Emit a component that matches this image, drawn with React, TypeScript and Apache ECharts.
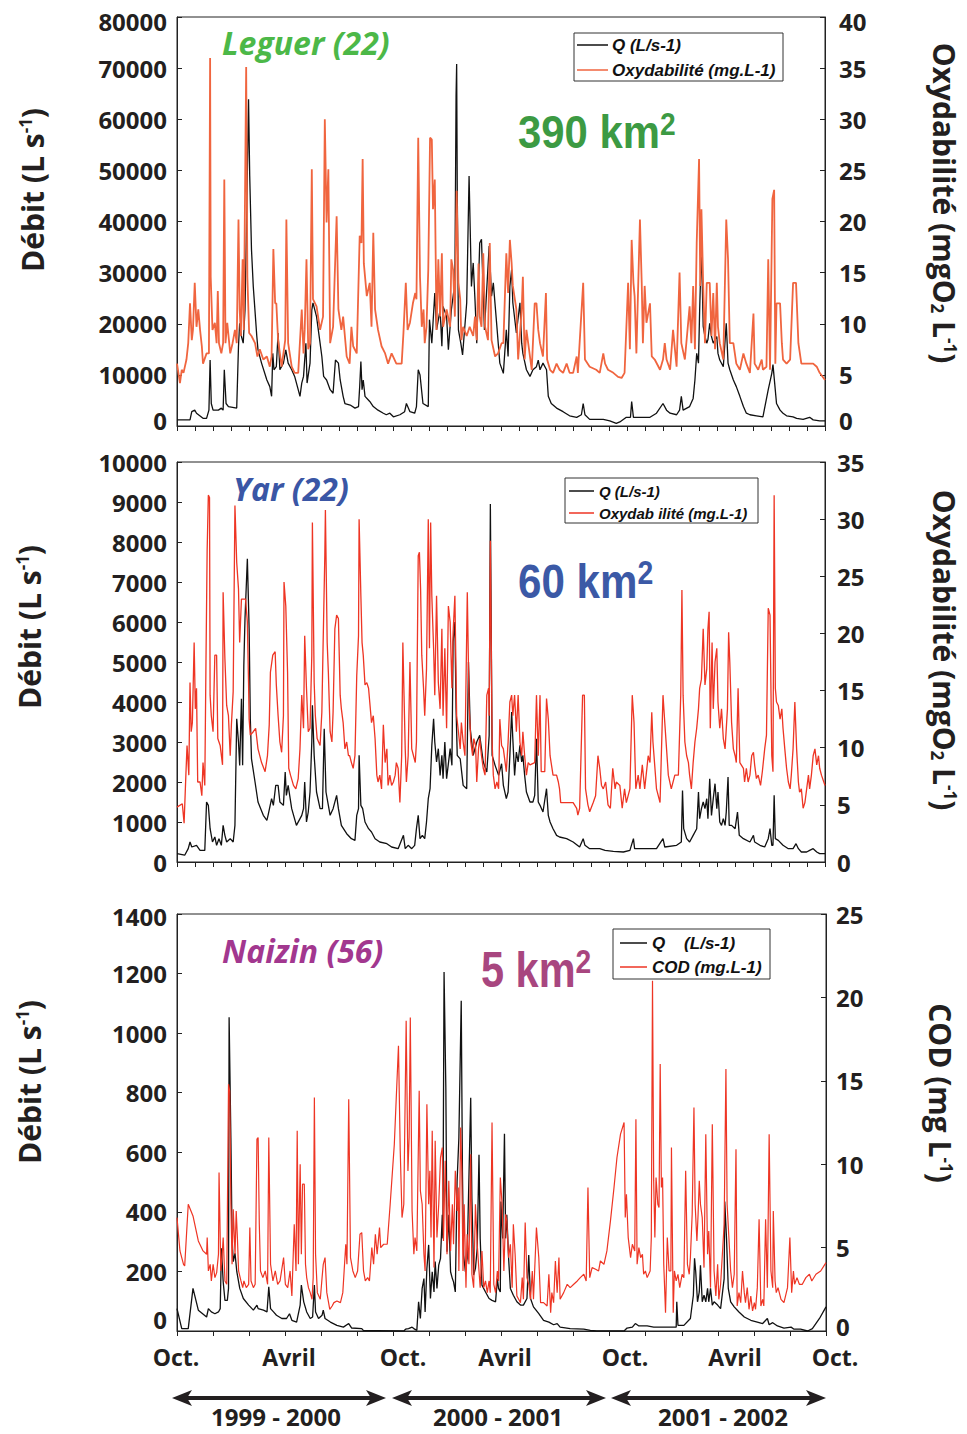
import React, { useEffect, useRef } from "react";
import * as echarts from "echarts";

// ---- time axis: days since 1 Oct 1999 (to 1 Oct 2002) ----
const DAYS = 1096;

// ---- Panel 1 : Leguer (22) ----
const leguerQ: [number, number][] = [[0,1200],[22,1200],[25,2800],[30,3100],[33,2500],[44,1500],[50,1500],[54,3100],[56,12900],[58,4400],[61,3100],[70,3100],[75,3500],[78,3100],[80,11000],[83,4400],[87,3800],[101,3500],[104,15600],[106,20100],[109,17500],[112,16200],[115,22700],[118,42400],[121,63900],[123,48900],[126,34500],[129,27300],[135,17500],[137,14900],[143,12300],[152,9000],[157,7700],[160,5800],[162,14200],[164,11000],[168,11600],[171,18200],[174,11000],[180,12300],[184,14900],[188,12300],[194,11000],[199,9700],[205,7100],[208,5800],[211,8400],[214,9700],[218,16200],[220,8400],[225,12300],[228,22700],[230,24100],[236,21400],[242,16200],[245,13600],[248,9700],[253,9000],[259,7100],[264,6400],[268,12900],[273,12300],[276,9000],[281,5800],[284,4400],[293,4100],[301,3500],[307,3800],[309,7700],[311,12600],[313,7100],[315,9000],[318,5800],[326,4800],[332,3800],[340,3100],[349,2500],[354,2200],[360,2500],[366,1800],[377,2200],[385,2800],[388,4400],[394,2800],[402,2500],[405,3800],[408,11000],[411,10000],[416,4400],[425,3800],[427,20800],[431,16200],[436,26000],[439,18800],[445,22700],[448,15600],[450,23400],[456,21400],[459,14900],[464,22700],[470,28000],[472,64600],[473,70800],[474,46300],[476,18800],[480,16200],[483,13900],[490,24100],[494,48900],[498,27300],[501,31900],[504,24700],[507,16200],[512,35800],[515,36500],[520,18800],[528,35200],[532,25400],[535,28000],[541,19500],[546,12300],[552,10300],[557,18800],[560,13600],[563,27300],[566,30600],[568,24100],[574,18200],[580,24100],[583,16200],[585,14200],[591,11000],[597,9700],[602,11000],[608,11600],[611,12900],[614,11000],[619,12300],[625,11000],[628,5800],[633,4400],[642,3500],[653,2800],[664,2000],[676,1700],[684,2200],[687,4400],[690,2200],[698,1300],[721,1300],[732,1000],[743,500],[749,800],[760,1700],[767,1700],[769,4800],[772,1700],[800,1700],[811,2500],[822,4400],[828,3100],[834,2500],[845,2200],[850,3100],[853,5800],[856,3100],[867,3800],[873,5400],[876,9000],[879,14200],[882,12300],[884,22700],[887,35200],[890,19500],[893,17500],[896,16200],[898,16900],[901,20100],[904,17500],[907,16200],[913,17500],[915,14200],[918,12900],[924,11600],[929,20100],[932,12300],[935,11000],[941,9000],[946,7700],[952,5800],[958,3800],[963,2500],[969,2200],[980,2000],[991,1800],[1000,7100],[1006,10300],[1008,12000],[1014,4400],[1020,3100],[1025,2500],[1031,2000],[1042,1800],[1048,1500],[1059,1300],[1070,1700],[1076,1200],[1087,1000],[1096,1000]];

const leguerOxy: [number, number][] = [[0,6.1],[5,4.2],[8,5.5],[11,5.2],[16,6.5],[19,8.1],[22,12.0],[25,8.4],[27,9.4],[30,14.0],[33,9.7],[36,11.4],[39,9.4],[42,7.8],[44,6.1],[50,7.1],[54,7.1],[56,36.0],[57,14.6],[60,9.4],[64,10.1],[67,8.1],[69,13.2],[71,8.1],[75,7.1],[78,8.1],[80,24.1],[82,8.1],[85,10.1],[90,7.1],[94,8.1],[98,9.4],[101,8.1],[104,20.2],[106,11.4],[108,8.8],[111,16.3],[113,9.4],[117,35.1],[119,14.6],[122,9.1],[126,8.8],[132,8.1],[136,6.8],[140,7.5],[146,6.5],[152,6.8],[157,5.8],[160,6.8],[163,17.3],[166,12.0],[168,12.0],[171,8.4],[177,5.8],[183,8.4],[185,20.2],[188,8.1],[194,5.8],[199,5.2],[205,5.2],[211,11.4],[214,7.1],[216,9.4],[219,16.3],[222,7.5],[225,8.1],[228,25.1],[230,12.4],[236,11.7],[242,9.4],[247,10.7],[250,30.0],[253,19.9],[256,25.1],[259,8.1],[264,9.7],[270,20.5],[273,11.4],[278,9.4],[281,10.7],[287,6.8],[292,6.1],[295,9.7],[298,7.8],[304,7.1],[309,18.6],[312,17.9],[314,26.1],[316,15.9],[321,12.7],[326,14.0],[329,9.7],[332,18.9],[335,11.4],[340,9.4],[346,7.8],[352,7.1],[357,6.1],[363,7.1],[371,6.1],[380,6.1],[383,9.1],[387,14.0],[390,9.4],[394,10.1],[399,12.0],[403,13.0],[405,12.4],[408,28.2],[411,14.6],[414,9.7],[417,11.4],[419,8.1],[422,9.7],[425,15.3],[428,28.2],[431,28.0],[433,21.2],[436,24.1],[439,9.4],[442,16.3],[445,10.7],[448,16.9],[450,9.7],[456,11.4],[462,9.7],[464,16.3],[467,15.3],[470,10.7],[473,23.0],[476,14.0],[479,12.4],[481,8.4],[484,9.7],[490,8.8],[495,9.7],[501,8.8],[504,10.7],[507,8.4],[510,15.9],[512,10.7],[515,9.7],[518,16.9],[521,9.7],[526,8.4],[529,17.9],[532,8.4],[538,6.8],[543,7.1],[549,8.1],[552,8.1],[557,16.9],[560,13.0],[563,18.2],[566,15.9],[568,13.7],[574,11.4],[577,6.5],[583,11.4],[585,14.6],[588,6.5],[591,9.4],[594,8.1],[600,5.5],[605,12.0],[608,12.0],[611,9.4],[614,8.1],[619,6.8],[624,13.0],[626,6.5],[631,5.5],[636,5.2],[642,6.1],[647,5.5],[653,5.2],[659,6.1],[664,5.2],[670,5.2],[676,6.8],[678,5.2],[687,14.0],[690,6.5],[698,5.8],[709,5.5],[715,5.2],[721,7.1],[724,6.1],[729,5.5],[738,5.2],[746,4.8],[752,4.7],[757,5.2],[763,14.0],[766,7.5],[769,18.2],[772,14.0],[774,12.7],[777,7.1],[783,20.2],[786,14.0],[788,8.1],[791,13.7],[794,10.1],[800,12.0],[803,6.8],[808,6.5],[817,5.5],[822,6.5],[825,8.1],[828,6.5],[834,5.5],[839,9.4],[845,5.8],[850,15.0],[853,8.1],[859,6.5],[867,11.7],[870,8.1],[873,13.7],[876,7.5],[879,17.9],[883,26.1],[885,13.7],[887,21.2],[890,13.7],[893,8.1],[896,14.0],[901,14.0],[904,8.8],[907,13.0],[910,7.5],[913,14.0],[915,9.7],[918,8.1],[924,6.5],[929,20.2],[932,16.3],[935,8.1],[941,8.1],[946,6.1],[952,5.5],[958,7.1],[963,6.1],[969,5.2],[975,11.0],[977,6.1],[983,5.5],[989,6.5],[991,5.5],[997,5.8],[1000,16.3],[1003,5.5],[1007,22.2],[1010,23.1],[1012,6.1],[1014,12.0],[1020,12.0],[1023,8.1],[1025,6.5],[1031,6.1],[1037,6.5],[1042,14.0],[1047,14.0],[1051,8.1],[1056,6.1],[1065,6.1],[1076,6.1],[1082,5.8],[1087,5.2],[1096,4.5]];

// ---- Panel 2 : Yar (22) ----
const yarQ: [number, number][] = [[0,208],[13,170],[19,333],[22,500],[25,375],[33,417],[39,290],[47,290],[50,1500],[53,1416],[56,833],[60,500],[64,625],[67,417],[71,583],[75,417],[78,916],[81,666],[84,500],[90,583],[95,500],[98,916],[101,3580],[104,3000],[106,2416],[109,4080],[111,2416],[113,4900],[115,6080],[119,7580],[122,5830],[124,3580],[126,2580],[132,2000],[137,1500],[146,1166],[152,1041],[154,1166],[160,1583],[163,1416],[167,1916],[171,1916],[174,1500],[180,1416],[183,2250],[185,1666],[188,1916],[194,1333],[202,916],[211,1166],[214,1333],[216,2000],[219,1000],[222,1250],[225,1750],[228,3000],[229,3916],[232,2666],[236,1750],[242,1333],[246,1333],[249,3333],[252,1750],[256,1416],[259,1166],[264,1333],[270,1666],[273,1333],[278,916],[287,708],[295,583],[301,541],[304,1166],[307,1333],[308,2666],[311,1416],[314,1333],[318,1000],[324,833],[329,750],[335,583],[343,500],[355,458],[363,375],[374,333],[383,666],[386,333],[391,417],[397,333],[402,417],[405,833],[408,1166],[411,583],[415,666],[419,583],[422,1000],[425,1583],[428,1833],[431,2916],[434,3580],[436,3000],[439,2500],[442,2833],[445,2166],[448,2666],[450,2083],[453,3000],[456,2083],[462,2833],[465,2416],[467,5500],[470,6000],[472,3833],[474,2666],[479,2580],[484,1916],[490,1833],[493,5000],[496,3333],[501,2666],[507,3000],[512,3166],[518,2500],[524,2250],[528,3166],[530,8950],[531,8950],[533,2666],[538,2416],[544,2166],[549,2458],[552,1916],[557,1583],[560,1750],[563,2666],[566,3750],[568,3083],[571,2166],[574,2750],[577,2500],[580,2916],[583,2500],[585,2666],[588,2166],[591,1750],[597,1500],[602,1500],[605,1666],[608,3083],[611,1500],[614,1416],[619,1250],[625,1833],[628,1166],[631,1000],[636,833],[642,666],[647,625],[659,583],[670,500],[681,375],[687,583],[690,417],[698,333],[715,333],[724,291],[738,267],[755,250],[766,291],[772,583],[774,333],[794,333],[811,333],[822,583],[825,375],[845,417],[853,500],[855,1790],[857,833],[862,583],[867,500],[873,666],[879,833],[882,1750],[884,1083],[887,1333],[890,1500],[893,1333],[896,1583],[898,1083],[901,2083],[904,1166],[907,1583],[910,1958],[913,1333],[915,1750],[918,1000],[921,916],[924,1083],[927,916],[929,1250],[932,2125],[934,916],[938,916],[944,833],[948,1250],[951,666],[958,583],[969,500],[975,666],[977,500],[986,417],[994,375],[1000,583],[1003,833],[1006,417],[1008,417],[1010,1666],[1012,583],[1017,541],[1025,417],[1034,333],[1042,333],[1047,458],[1051,333],[1056,250],[1065,250],[1070,291],[1076,333],[1082,250],[1087,208],[1096,208]];

const yarOxy: [number, number][] = [[0,4.8],[9,5.1],[12,3.4],[15,7.6],[17,10.2],[20,7.6],[22,15.7],[24,11.4],[26,12.2],[29,19.2],[31,13.4],[33,15.2],[35,7.0],[39,7.0],[42,5.8],[44,8.7],[47,6.7],[49,17.5],[51,27.3],[53,32.1],[55,31.9],[56,14.6],[58,12.8],[61,11.4],[64,18.1],[67,18.1],[69,10.8],[73,10.2],[77,8.5],[78,23.6],[81,17.8],[84,13.7],[87,12.8],[90,9.3],[92,12.0],[95,14.9],[98,31.2],[101,26.2],[104,23.9],[106,19.2],[109,23.0],[112,23.0],[116,23.0],[119,21.0],[121,15.7],[122,12.5],[124,11.1],[129,11.4],[133,11.7],[137,9.9],[143,8.7],[149,7.9],[153,9.3],[156,12.0],[158,16.6],[162,18.1],[166,18.4],[168,15.5],[171,12.8],[174,10.5],[177,9.6],[180,12.8],[181,24.5],[184,22.4],[187,16.6],[189,8.2],[192,7.6],[197,6.7],[201,6.4],[205,7.3],[208,9.9],[211,14.6],[214,11.7],[216,19.8],[219,15.2],[222,11.4],[225,11.7],[228,18.1],[229,29.7],[232,15.7],[234,12.8],[237,10.8],[242,10.2],[245,13.1],[247,18.7],[250,26.8],[251,30.8],[254,19.2],[256,16.6],[259,11.4],[262,10.5],[264,13.1],[267,20.4],[270,21.6],[273,21.3],[276,14.6],[278,13.4],[281,12.2],[284,9.9],[287,10.5],[290,9.3],[292,9.3],[295,8.7],[298,8.2],[301,9.3],[304,16.3],[307,19.8],[308,30.0],[311,23.3],[313,19.2],[315,18.1],[318,15.5],[321,15.7],[324,15.2],[326,14.0],[329,12.2],[332,12.8],[335,10.8],[338,7.6],[340,7.0],[343,7.6],[346,6.4],[349,12.0],[352,8.7],[355,9.9],[357,6.7],[360,7.6],[363,6.7],[366,7.0],[369,7.6],[371,8.7],[374,8.2],[377,5.2],[380,9.3],[382,19.2],[384,14.6],[386,9.9],[388,7.0],[391,9.3],[394,17.5],[397,9.9],[400,9.3],[403,8.7],[405,10.5],[408,26.8],[410,27.1],[412,23.9],[414,18.1],[417,15.2],[419,12.8],[422,16.9],[425,30.0],[427,18.7],[429,29.7],[431,23.3],[434,18.7],[436,14.6],[439,23.3],[442,15.7],[445,13.4],[448,20.4],[450,12.8],[453,18.7],[456,11.7],[459,22.4],[462,21.0],[465,15.2],[467,20.1],[470,23.3],[473,12.8],[476,11.4],[479,9.9],[481,12.2],[484,10.5],[487,9.3],[491,23.6],[494,13.7],[497,10.5],[500,9.3],[502,10.8],[505,10.2],[507,7.0],[510,9.9],[512,10.8],[515,9.3],[518,8.2],[521,7.6],[524,14.6],[527,15.2],[528,12.8],[530,28.1],[531,28.1],[533,10.5],[535,7.6],[538,6.4],[541,7.0],[544,6.4],[546,12.5],[549,10.2],[552,9.9],[557,7.9],[560,10.5],[563,14.0],[566,14.6],[568,12.8],[571,14.6],[574,11.4],[577,14.6],[580,10.5],[583,9.3],[585,11.4],[588,9.3],[591,7.6],[594,8.7],[597,8.5],[605,8.7],[608,14.6],[611,9.3],[614,14.6],[616,7.9],[622,7.9],[625,14.3],[628,12.5],[631,9.3],[636,7.6],[642,7.6],[645,7.0],[647,6.4],[649,5.2],[659,5.2],[670,5.2],[676,4.7],[678,4.1],[681,4.7],[686,14.6],[689,14.6],[691,6.4],[695,5.0],[698,4.4],[704,5.2],[708,5.8],[712,9.3],[715,8.2],[718,6.7],[721,6.4],[725,7.0],[729,5.0],[733,4.7],[737,8.2],[741,6.4],[743,7.0],[749,6.7],[753,4.7],[757,6.4],[760,5.2],[766,6.4],[770,14.6],[773,12.2],[776,6.4],[780,7.6],[783,6.4],[787,8.5],[791,6.4],[797,9.3],[800,8.7],[803,13.1],[805,10.5],[811,6.4],[817,5.2],[822,14.6],[825,12.2],[831,7.6],[836,6.4],[842,7.6],[848,7.6],[852,14.6],[854,23.8],[856,14.6],[859,10.5],[862,9.3],[865,8.7],[867,7.6],[870,6.4],[873,8.7],[876,10.5],[879,11.7],[882,13.4],[884,15.2],[887,16.0],[890,20.4],[893,15.5],[896,16.9],[898,20.4],[900,21.9],[902,11.7],[905,19.2],[907,13.4],[910,17.5],[913,18.7],[915,14.0],[918,11.7],[921,13.4],[924,10.8],[927,9.9],[931,13.4],[933,20.1],[935,17.5],[938,12.2],[941,9.9],[944,9.3],[946,8.7],[949,15.2],[952,8.7],[958,8.2],[960,7.0],[963,8.2],[966,7.0],[969,7.6],[972,9.3],[975,9.6],[977,8.5],[980,7.3],[983,7.6],[987,6.7],[990,7.9],[994,9.9],[997,11.1],[1000,22.2],[1003,21.6],[1006,9.3],[1008,7.9],[1010,32.1],[1012,15.2],[1014,14.0],[1017,13.7],[1020,12.5],[1023,13.4],[1025,11.7],[1028,9.9],[1031,8.2],[1034,7.0],[1037,6.4],[1039,7.6],[1042,9.9],[1045,14.0],[1048,9.9],[1051,7.0],[1053,6.1],[1056,6.4],[1059,4.7],[1062,5.2],[1065,6.4],[1068,7.6],[1070,6.4],[1073,7.6],[1076,9.3],[1079,9.9],[1082,8.5],[1085,9.3],[1087,8.2],[1090,7.6],[1096,6.7]];

// ---- Panel 3 : Naizin (56) ----
const naizinQ: [number, number][] = [[0,75],[8,8],[19,8],[27,143],[36,70],[50,47],[53,75],[58,64],[64,58],[70,64],[73,75],[75,278],[78,165],[81,103],[85,103],[87,143],[88,1053],[91,648],[93,311],[95,233],[98,261],[101,199],[106,143],[112,109],[121,87],[129,70],[135,87],[137,75],[146,70],[152,64],[155,148],[158,75],[163,64],[168,53],[177,42],[185,42],[190,58],[194,36],[202,30],[208,87],[210,154],[214,98],[219,64],[225,42],[229,47],[232,154],[234,64],[239,42],[245,53],[247,70],[250,42],[259,30],[270,19],[281,13],[290,25],[295,10],[312,8],[315,1],[338,1],[383,0],[386,6],[391,8],[397,13],[400,8],[405,2],[408,98],[411,42],[414,143],[417,176],[419,64],[422,210],[425,289],[428,109],[431,199],[434,131],[436,233],[439,143],[442,221],[445,244],[448,390],[449,311],[451,1205],[454,817],[456,266],[459,390],[462,199],[465,176],[467,165],[470,131],[473,502],[476,648],[480,1109],[482,536],[484,255],[487,199],[490,244],[496,783],[498,446],[501,188],[504,210],[507,278],[510,592],[512,311],[515,154],[521,131],[527,109],[532,103],[538,98],[541,176],[543,143],[546,131],[547,435],[550,311],[553,662],[555,311],[557,390],[560,244],[563,143],[568,120],[574,98],[580,87],[585,87],[591,109],[594,255],[597,109],[602,81],[611,58],[619,36],[628,30],[636,21],[642,25],[647,13],[664,8],[687,6],[698,2],[709,0],[755,0],[760,10],[769,13],[774,25],[780,17],[794,17],[805,13],[843,13],[844,98],[846,19],[856,19],[867,42],[872,120],[874,244],[876,199],[879,98],[882,131],[884,221],[887,98],[890,120],[893,98],[896,143],[898,98],[901,143],[904,87],[907,98],[913,87],[918,75],[924,176],[925,435],[928,311],[931,143],[935,98],[941,81],[949,64],[958,47],[969,36],[980,30],[989,25],[997,42],[1000,21],[1006,28],[1014,17],[1025,10],[1037,13],[1042,6],[1053,6],[1065,0],[1073,8],[1085,42],[1096,81]];

const naizinCOD: [number, number][] = [[0,6.8],[5,4.8],[11,4.0],[13,3.9],[19,7.6],[27,6.9],[36,5.4],[44,4.8],[50,4.6],[51,5.6],[53,3.6],[56,4.0],[58,3.0],[61,4.0],[64,3.2],[67,3.5],[70,4.6],[71,9.5],[74,3.6],[76,4.4],[78,5.6],[81,3.0],[84,2.8],[87,14.8],[89,14.4],[91,7.6],[93,4.0],[95,7.3],[98,4.6],[100,7.2],[102,5.6],[104,3.6],[108,3.0],[111,2.6],[113,3.0],[117,2.6],[121,2.8],[123,6.2],[125,3.0],[129,2.6],[132,2.8],[135,11.5],[137,11.6],[139,6.4],[141,3.6],[145,3.2],[149,3.6],[153,2.8],[155,11.6],[158,4.0],[162,3.0],[166,3.6],[170,2.8],[174,3.0],[180,4.4],[183,2.8],[187,2.6],[191,3.6],[194,2.1],[198,6.4],[201,3.6],[203,12.0],[205,4.0],[208,10.0],[210,4.6],[212,8.8],[215,8.8],[217,4.0],[219,3.2],[222,2.6],[225,2.3],[228,1.9],[230,3.2],[232,14.0],[234,4.6],[237,2.3],[242,1.9],[245,3.2],[247,4.0],[250,4.4],[253,2.3],[258,1.3],[262,1.5],[265,1.7],[270,1.8],[276,1.7],[280,2.3],[285,5.2],[287,4.0],[290,13.9],[293,4.4],[297,3.6],[301,3.2],[305,3.6],[309,5.8],[312,5.9],[315,3.6],[318,3.0],[322,3.2],[325,3.0],[329,5.0],[332,4.0],[335,5.8],[338,4.6],[342,6.2],[344,5.0],[349,5.2],[355,5.2],[360,7.6],[367,11.2],[374,17.1],[377,10.8],[380,6.8],[383,7.6],[387,18.6],[390,9.6],[392,11.6],[394,18.8],[397,7.2],[400,4.6],[402,5.6],[405,4.8],[409,14.4],[411,8.4],[414,7.6],[417,4.6],[419,3.6],[422,13.6],[425,7.6],[427,9.6],[429,5.6],[431,12.0],[434,3.8],[436,11.4],[439,5.6],[442,7.6],[445,10.4],[448,11.0],[450,5.4],[453,10.2],[456,4.6],[459,9.0],[462,4.8],[465,7.6],[467,5.2],[470,9.6],[473,7.2],[475,8.6],[476,3.6],[479,12.2],[481,9.6],[483,3.6],[485,7.6],[488,2.6],[490,5.8],[493,4.0],[496,10.6],[498,3.4],[501,2.6],[504,7.6],[507,5.2],[510,3.6],[512,2.6],[515,4.8],[518,2.6],[521,3.0],[524,2.3],[527,3.0],[529,2.3],[532,12.5],[535,2.8],[538,2.3],[541,3.6],[543,3.0],[546,9.2],[549,7.6],[552,3.6],[555,7.0],[557,6.6],[560,4.4],[563,5.2],[566,2.6],[568,6.4],[571,4.6],[574,2.1],[577,1.9],[580,1.7],[583,3.2],[585,1.9],[588,6.5],[591,3.2],[594,2.8],[597,1.9],[600,3.6],[602,1.9],[607,6.2],[611,4.4],[614,1.7],[619,1.7],[625,1.5],[628,3.4],[631,1.1],[633,2.3],[636,1.7],[639,4.2],[642,2.3],[645,4.4],[647,1.9],[653,2.3],[659,2.8],[664,2.6],[670,2.8],[676,3.0],[681,3.2],[687,3.4],[691,3.0],[694,8.6],[697,3.2],[701,3.8],[707,3.7],[712,3.6],[715,4.2],[721,4.0],[726,4.8],[732,6.6],[738,8.6],[743,10.4],[749,11.8],[755,12.5],[757,6.8],[759,8.2],[762,5.6],[766,4.4],[769,5.2],[773,4.8],[775,12.7],[777,4.0],[780,5.0],[783,4.4],[786,4.6],[788,3.4],[791,3.6],[794,3.2],[799,3.6],[801,5.6],[803,21.0],[805,9.0],[807,5.6],[809,9.2],[812,7.6],[814,7.4],[816,16.0],[818,8.6],[820,9.2],[822,4.0],[825,1.1],[828,5.6],[831,3.6],[834,3.6],[835,11.0],[838,1.1],[840,3.6],[843,3.0],[846,3.4],[849,2.6],[853,3.4],[856,3.2],[859,9.6],[862,4.0],[865,3.4],[867,4.4],[870,7.0],[873,13.4],[875,7.6],[878,5.4],[880,7.0],[882,9.0],[884,7.6],[887,6.8],[890,3.8],[893,11.8],[896,4.6],[898,6.0],[901,2.6],[904,12.4],[907,3.6],[910,2.1],[913,4.0],[915,1.9],[918,2.8],[921,4.6],[924,6.4],[927,15.7],[929,7.6],[932,5.6],[935,3.6],[938,2.6],[941,3.4],[944,10.9],[946,1.5],[949,2.3],[952,1.7],[955,3.6],[958,2.3],[960,1.7],[963,2.6],[966,1.3],[969,2.1],[972,1.2],[975,1.7],[977,1.3],[980,2.6],[983,6.7],[986,1.5],[989,1.9],[991,1.5],[994,6.7],[997,2.6],[1000,11.8],[1003,3.6],[1006,2.6],[1007,7.2],[1010,3.0],[1012,2.3],[1015,2.6],[1020,1.9],[1025,1.7],[1031,2.6],[1035,5.6],[1038,2.3],[1041,3.6],[1043,2.8],[1047,3.2],[1051,2.8],[1056,2.8],[1062,3.2],[1068,3.4],[1072,3.0],[1079,3.4],[1087,3.6],[1096,4.1]];

// ---- labels ----
const monthLabels = ["Oct.", "Avril", "Oct.", "Avril", "Oct.", "Avril", "Oct."];
const yearLabels = ["1999 - 2000", "2000 - 2001", "2001 - 2002"];
const leftMax = [80000, 10000, 1400];
const leftStep = [10000, 1000, 200];
const rightMax = [40, 35, 25];
const rightStep = [5, 5, 5];

const FONT = "'Open Sans', 'DejaVu Sans', sans-serif";
const ARIAL = "'Liberation Sans', Arial, sans-serif";
const INK = "#231f20";

const grids = [
  { left: 177, top: 17, width: 648, height: 409 },
  { left: 177, top: 462, width: 648, height: 400 },
  { left: 177, top: 914, width: 649, height: 417 },
];

// label nudges (px): [zero shift up, max shift down] per axis
const leftNudge = [[6, 4], [0, 0], [12, 2]];
const rightNudge = [[6, 4], [0, 0], [5, 0]];

function axisLabelCfg(margin: number, maxVal: number, nudge: number[]) {
  const base = { color: INK, fontFamily: FONT, fontWeight: "bold", fontSize: 24 };
  return {
    ...base,
    margin,
    formatter: (v: number) => {
      if (v === 0 && nudge[0]) return "{z|0}";
      if (v === maxVal && nudge[1]) return `{m|${v}}`;
      return String(v);
    },
    rich: {
      z: { ...base, padding: [0, 0, nudge[0] * 2, 0] },
      m: { ...base, padding: [nudge[1] * 2, 0, 0, 0] },
    },
  };
}

function buildOption() {
  const xAxes = grids.map((_, i) => ({
    type: "value",
    gridIndex: i,
    min: 0,
    max: DAYS,
    interval: i === 2 ? DAYS / 18 : DAYS / 36,
    axisLine: { show: true, lineStyle: { color: "#222", width: 1 } },
    axisTick: { show: true, inside: false, length: 5, lineStyle: { color: "#222" } },
    axisLabel: { show: false },
    splitLine: { show: false },
  }));
  const rightMargins = [14, 12, 10];
  const yAxes: any[] = [];
  grids.forEach((_, i) => {
    yAxes.push({
      type: "value", gridIndex: i, position: "left", min: 0, max: leftMax[i], interval: leftStep[i],
      axisLine: { show: true, lineStyle: { color: "#222", width: 1 } },
      axisTick: { show: true, inside: true, length: 5, lineStyle: { color: "#222" } },
      axisLabel: axisLabelCfg(10, leftMax[i], leftNudge[i]),
      splitLine: { show: false },
    });
    yAxes.push({
      type: "value", gridIndex: i, position: "right", min: 0, max: rightMax[i], interval: rightStep[i],
      axisLine: { show: true, lineStyle: { color: "#222", width: 1 } },
      axisTick: { show: true, inside: true, length: 5, lineStyle: { color: "#222" } },
      axisLabel: axisLabelCfg(rightMargins[i], rightMax[i], rightNudge[i]),
      splitLine: { show: false },
    });
  });

  const blackLine = { color: "#111", width: 1.3 };
  const series = [
    { data: leguerQ, x: 0, y: 0, ls: blackLine, z: 2 },
    { data: leguerOxy, x: 0, y: 1, ls: { color: "#f0653f", width: 1.8 }, z: 3 },
    { data: yarQ, x: 1, y: 2, ls: blackLine, z: 2 },
    { data: yarOxy, x: 1, y: 3, ls: { color: "#ee3524", width: 1.3 }, z: 3 },
    { data: naizinQ, x: 2, y: 4, ls: blackLine, z: 2 },
    { data: naizinCOD, x: 2, y: 5, ls: { color: "#ee3524", width: 1.2 }, z: 3 },
  ].map((s) => ({
    type: "line", xAxisIndex: s.x, yAxisIndex: s.y, data: s.data, symbol: "none", showSymbol: false,
    lineStyle: s.ls, z: s.z, silent: true,
  }));

  const g: any[] = [];
  const titleRich = (size: number) => ({
    t: { fontSize: size, fontWeight: "bold", fontFamily: FONT, fill: INK },
    p: { fontSize: Math.round(size * 0.58), fontWeight: "bold", fontFamily: FONT, fill: INK, verticalAlign: "top" },
    b: { fontSize: Math.round(size * 0.58), fontWeight: "bold", fontFamily: FONT, fill: INK, verticalAlign: "bottom" },
  });
  const leftTitle = (x: number, y: number) => ({
    type: "text", x, y, rotation: Math.PI / 2,
    style: { text: "{t|Débit (L s}{p|-1}{t|)}", rich: titleRich(30), align: "center", verticalAlign: "middle" },
  });
  const rightTitle = (x: number, y: number, txt: string) => ({
    type: "text", x, y, rotation: -Math.PI / 2,
    style: { text: txt, rich: titleRich(30), align: "center", verticalAlign: "middle" },
  });
  g.push(leftTitle(32, 190), leftTitle(29, 627), leftTitle(29, 1082));
  g.push(rightTitle(944, 203, "{t|Oxydabilité (mgO}{b|2}{t| L}{p|-1}{t|)}"));
  g.push(rightTitle(944, 650, "{t|Oxydabilité (mgO}{b|2}{t| L}{p|-1}{t|)}"));
  g.push(rightTitle(940, 1093, "{t|COD (mg L}{p|-1}{t|)}"));

  const station = (x: number, y: number, text: string, color: string) => ({
    type: "text", x, y,
    style: { text, fontSize: 32, fontWeight: "bold", fontStyle: "italic", fontFamily: FONT, fill: color, align: "left", verticalAlign: "middle" },
  });
  g.push(station(222, 42, "Leguer (22)", "#4cb848"));
  g.push(station(233, 488, "Yar (22)", "#3a56a5"));
  g.push(station(222, 950, "Naizin (56)", "#a2378f"));

  const area = (x: number, y: number, num: string, color: string, fs: number, sx: number) => ({
    type: "text", x, y, scaleX: sx,
    style: {
      text: `{n|${num} km}{s|2}`, align: "left", verticalAlign: "middle",
      rich: {
        n: { fontSize: fs, fontWeight: "bold", fontFamily: ARIAL, fill: color },
        s: { fontSize: Math.round(fs * 0.67), fontWeight: "bold", fontFamily: ARIAL, fill: color, verticalAlign: "top" },
      },
    },
  });
  g.push(area(518, 132, "390", "#3c9a43", 46, 0.91));
  g.push(area(518, 581, "60", "#3b59a6", 49, 0.86));
  g.push(area(481, 970, "5", "#a8467f", 50, 0.83));

  const legend = (x: number, y: number, w: number, h: number, y1: number, y2: number, lx1: number, lx2: number, tx: number, t1: string, t2: string, red: string, fs: number) => {
    const items: any[] = [
      { type: "rect", shape: { x, y, width: w, height: h }, style: { fill: "#fff", stroke: "#333", lineWidth: 1 } },
      { type: "line", shape: { x1: lx1, y1, x2: lx2, y2: y1 }, style: { stroke: "#111", lineWidth: 1.5 } },
      { type: "line", shape: { x1: lx1, y1: y2, x2: lx2, y2 }, style: { stroke: red, lineWidth: 1.5 } },
      { type: "text", x: tx, y: y1, style: { text: t1, fontSize: fs, fontWeight: "bold", fontStyle: "italic", fontFamily: ARIAL, fill: "#111", align: "left", verticalAlign: "middle" } },
      { type: "text", x: tx, y: y2, style: { text: t2, fontSize: fs, fontWeight: "bold", fontStyle: "italic", fontFamily: ARIAL, fill: "#111", align: "left", verticalAlign: "middle" } },
    ];
    return { type: "group", children: items, z: 10 };
  };
  g.push(legend(574, 33, 209, 48, 45, 70, 577, 608, 612, "Q (L/s-1)", "Oxydabilité (mg.L-1)", "#f0653f", 17));
  g.push(legend(565, 478, 193, 45, 491, 513, 569, 594, 599, "Q (L/s-1)", "Oxydab ilité (mg.L-1)", "#ee3524", 15));
  g.push(legend(613, 929, 157, 50, 943, 967, 620, 647, 652, "Q    (L/s-1)", "COD (mg.L-1)", "#ee3524", 17));

  const labelX = [176, 289, 403, 505, 625, 735, 835];
  monthLabels.forEach((t, i) => {
    g.push({ type: "text", x: labelX[i], y: 1357, style: { text: t, fontSize: 23, fontWeight: "bold", fontFamily: FONT, fill: INK, align: "center", verticalAlign: "middle" } });
  });

  const arrows = [[172, 386], [392, 606], [611, 826]];
  const yearX = [276, 498, 723];
  const ay = 1398;
  arrows.forEach(([a, b], i) => {
    g.push({ type: "line", shape: { x1: a + 8, y1: ay, x2: b - 8, y2: ay }, style: { stroke: INK, lineWidth: 4 } });
    g.push({ type: "polygon", shape: { points: [[a, ay], [a + 20, ay - 8], [a + 15, ay], [a + 20, ay + 8]] }, style: { fill: INK } });
    g.push({ type: "polygon", shape: { points: [[b, ay], [b - 20, ay - 8], [b - 15, ay], [b - 20, ay + 8]] }, style: { fill: INK } });
    g.push({ type: "text", x: yearX[i], y: 1416, style: { text: yearLabels[i], fontSize: 24, fontWeight: "bold", fontFamily: FONT, fill: INK, align: "center", verticalAlign: "middle" } });
  });

  return {
    animation: false,
    backgroundColor: "#ffffff",
    grid: grids.map((gr) => ({ ...gr, show: true, borderColor: "#222", borderWidth: 1, backgroundColor: "transparent" })),
    xAxis: xAxes,
    yAxis: yAxes,
    series,
    graphic: g,
  };
}

export default function App() {
  const ref = useRef<HTMLDivElement>(null);
  useEffect(() => {
    if (!ref.current) return;
    const chart = echarts.init(ref.current, null, { renderer: "svg" });
    chart.setOption(buildOption() as any);
    return () => chart.dispose();
  }, []);
  return (
    <div
      ref={ref}
      style={{ position: "absolute", left: 0, top: 0, width: 967, height: 1434, background: "#fff" }}
    />
  );
}
